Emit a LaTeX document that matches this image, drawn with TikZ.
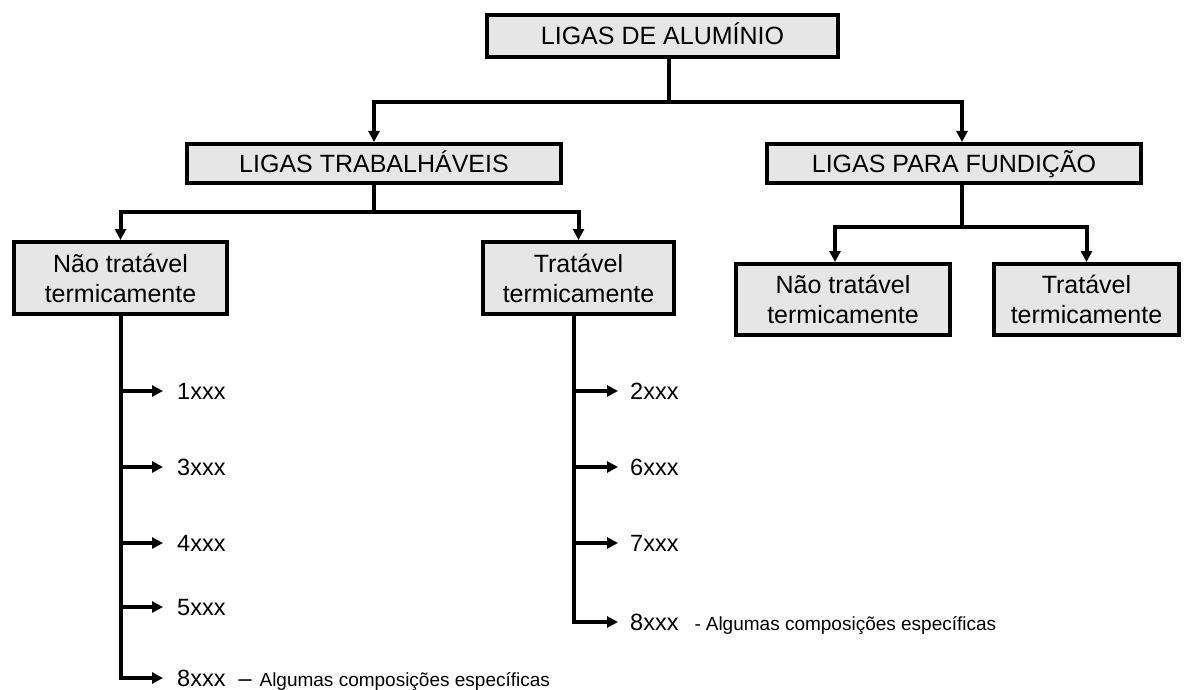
\documentclass[tikz,border=0pt]{standalone}
\usepackage{fontspec}
\setmainfont{Liberation Sans}
\usetikzlibrary{arrows.meta}
\definecolor{boxgray}{HTML}{E6E6E6}
\begin{document}
\begin{tikzpicture}[x=1pt,y=-1pt,
  box/.style={draw=black,line width=4pt,fill=boxgray,inner sep=0pt,align=center,
    font=\fontsize{25}{30}\selectfont},
  onebox/.style={draw=black,line width=4pt,fill=boxgray,inner sep=0pt,
    font=\fontsize{25}{30}\selectfont,text height=17.9pt,text depth=0pt},
  conn/.style={line width=4pt},
  arr/.style={line width=4pt,-{Triangle[length=11pt,width=11pt]}},
  item/.style={anchor=base west,inner sep=0pt,font=\fontsize{23.5}{28}\selectfont}]
\useasboundingbox (0,0) rectangle (1184,690);

% boxes
\node[onebox,minimum width=351pt,minimum height=42pt] (top) at (662.5,36) {LIGAS DE ALUMÍNIO};
\node[onebox,minimum width=374pt,minimum height=39pt] (LT) at (374,163.5) {LIGAS TRABALHÁVEIS};
\node[onebox,minimum width=374pt,minimum height=39pt] (LPF) at (954,163.5) {LIGAS PARA FUNDIÇÃO};
\node[box,minimum width=213pt,minimum height=72pt] (NT1) at (120.5,278) {Não tratável\\termicamente};
\node[box,minimum width=191pt,minimum height=72pt] (T1) at (578.5,278) {Tratável\\termicamente};
\node[box,minimum width=214pt,minimum height=71pt] (NT2) at (843,299.5) {Não tratável\\termicamente};
\node[box,minimum width=185pt,minimum height=71pt] (T2) at (1086.5,299.5) {Tratável\\termicamente};

% top level connectors
\coordinate (j1) at (669,102);
\draw[conn] (top.south -| j1) -- (j1);
\draw[arr] (j1) -| (LT.north);
\draw[arr] (j1) -| ([xshift=8pt]LPF.north);

\coordinate (j2) at (374,212);
\draw[conn] (LT.south) -- (j2);
\draw[arr] (j2) -| (NT1.north);
\draw[arr] (j2) -| (T1.north);

\coordinate (j3) at (962,227);
\draw[conn] (LPF.south -| j3) -- (j3);
\draw[arr] (j3) -| ([xshift=-8pt]NT2.north);
\draw[arr] (j3) -| (T2.north);

% left list
\node[item] (a1) at (177,399.4) {1xxx};
\node[item] (a2) at (177,475.4) {3xxx};
\node[item] (a3) at (177,551.4) {4xxx};
\node[item] (a4) at (177,615.4) {5xxx};
\node[item] (a5) at (177,686.4) {8xxx\hspace{13pt}–\hspace{8pt}{\fontsize{19}{22}\selectfont Algumas composições específicas}};
\coordinate (p1) at ([xshift=-14pt,yshift=8.4pt]a1.base west);
\coordinate (p2) at ([xshift=-14pt,yshift=8.4pt]a2.base west);
\coordinate (p3) at ([xshift=-14pt,yshift=8.4pt]a3.base west);
\coordinate (p4) at ([xshift=-14pt,yshift=8.4pt]a4.base west);
\coordinate (p5) at ([xshift=-14pt,yshift=8.4pt]a5.base west);
\draw[arr] (NT1.south) |- (p5);
\draw[arr] (NT1.south |- p1) -- (p1);
\draw[arr] (NT1.south |- p2) -- (p2);
\draw[arr] (NT1.south |- p3) -- (p3);
\draw[arr] (NT1.south |- p4) -- (p4);

% right list
\node[item] (b1) at (630,399.4) {2xxx};
\node[item] (b2) at (630,475.4) {6xxx};
\node[item] (b3) at (630,551.4) {7xxx};
\node[item] (b4) at (630,630.4) {8xxx\hspace{16pt}{\fontsize{19}{22}\selectfont -\hspace{5pt}Algumas composições específicas}};
\coordinate (q1) at ([xshift=-12pt,yshift=8.4pt]b1.base west);
\coordinate (q2) at ([xshift=-12pt,yshift=8.4pt]b2.base west);
\coordinate (q3) at ([xshift=-12pt,yshift=8.4pt]b3.base west);
\coordinate (q4) at ([xshift=-12pt,yshift=8.4pt]b4.base west);
\draw[arr] ([xshift=-4.5pt]T1.south) |- (q4);
\draw[arr] ([xshift=-4.5pt]T1.south |- q1) -- (q1);
\draw[arr] ([xshift=-4.5pt]T1.south |- q2) -- (q2);
\draw[arr] ([xshift=-4.5pt]T1.south |- q3) -- (q3);
\end{tikzpicture}
\end{document}
